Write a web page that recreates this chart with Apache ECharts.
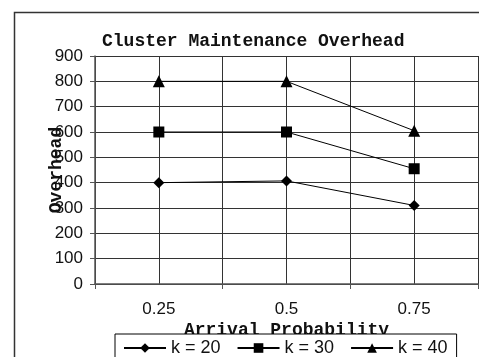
<!DOCTYPE html>
<html>
<head>
<meta charset="utf-8">
<script src="https://cdn.jsdelivr.net/npm/echarts@6/dist/echarts.min.js"></script>
<style>
html,body{margin:0;padding:0;background:#fff;}
#c{width:479px;height:357px;}
</style>
</head>
<body>
<div id="c"></div>
<script>
var categories = ['0.25', '0.5', '0.75'];
var k20 = [400, 407, 310];
var k30 = [600, 600, 455];
var k40 = [800, 800, 605];
var seriesNames = ['k = 20', 'k = 30', 'k = 40'];
var yTicks = {min: 0, max: 900, interval: 100};
var titleText = 'Cluster Maintenance Overhead';
var xName = 'Arrival Probability';
var yName = 'Overhead';

var chart = echarts.init(document.getElementById('c'), null, {renderer: 'canvas'});
var mono = 'Liberation Mono';
var sans = 'Liberation Sans';
var gridColor = '#333';

function mk(name, data, symbol, size) {
  return {
    name: name, type: 'line', data: data, xAxisIndex: 0, yAxisIndex: 0,
    symbol: symbol, symbolSize: size, showSymbol: true,
    lineStyle: {color: '#000', width: 1},
    itemStyle: {color: '#000'},
    z: 5
  };
}

chart.setOption({
  animation: false,
  backgroundColor: '#fff',
  graphic: [{
    type: 'rect', left: 12, top: 10, z: -10,
    shape: {width: 520, height: 420},
    style: {fill: 'none', stroke: '#333', lineWidth: 1.5}
  }],
  title: {
    text: titleText, left: 97, top: 27,
    textStyle: {fontFamily: mono, fontWeight: 'bold', fontSize: 18, color: '#111'}
  },
  legend: {
    data: seriesNames, left: 115, top: 334,
    orient: 'horizontal', itemWidth: 42, itemHeight: 12, itemGap: 16,
    padding: [5, 9, 5, 8],
    borderColor: '#000', borderWidth: 1, backgroundColor: '#fff',
    textStyle: {fontFamily: sans, fontSize: 18, color: '#111'},
    z: 10
  },
  grid: {left: 95, right: 1, top: 56, bottom: 73, containLabel: false},
  xAxis: [{
    type: 'category', data: categories, boundaryGap: true,
    name: xName, nameLocation: 'middle', nameGap: 37, nameMoveOverlap: false,
    nameTextStyle: {fontFamily: mono, fontWeight: 'bold', fontSize: 18, color: '#111'},
    axisLine: {show: true, lineStyle: {color: '#555', width: 1.5}},
    axisTick: {show: true, length: 5, inside: false, lineStyle: {color: '#555'}},
    axisLabel: {fontFamily: sans, fontSize: 17, color: '#111', margin: 17},
    splitLine: {show: false}
  }, {
    type: 'value', min: 0, max: 6, interval: 1, position: 'bottom',
    axisLine: {show: false}, axisTick: {show: false}, axisLabel: {show: false},
    splitLine: {show: true, lineStyle: {color: gridColor, width: 1}}
  }],
  yAxis: {
    type: 'value', min: yTicks.min, max: yTicks.max, interval: yTicks.interval,
    name: yName, nameLocation: 'middle', nameGap: 30, nameRotate: 90, nameMoveOverlap: false,
    nameTextStyle: {fontFamily: mono, fontWeight: 'bold', fontSize: 18, color: '#111'},
    axisLine: {show: true, lineStyle: {color: '#555', width: 1.5}},
    axisTick: {show: true, length: 5, lineStyle: {color: '#555'}},
    axisLabel: {fontFamily: sans, fontSize: 17, color: '#111', margin: 12},
    splitLine: {show: true, lineStyle: {color: gridColor, width: 1}}
  },
  series: [
    mk(seriesNames[0], k20, 'diamond', 11),
    mk(seriesNames[1], k30, 'rect', 11),
    mk(seriesNames[2], k40, 'triangle', 12)
  ]
});
</script>
</body>
</html>
